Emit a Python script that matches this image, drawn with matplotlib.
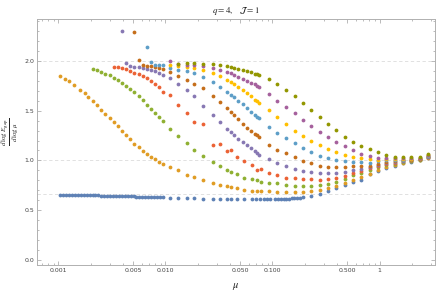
import matplotlib
matplotlib.use("Agg")
import matplotlib.pyplot as plt
from matplotlib.ticker import FixedLocator, FixedFormatter, NullFormatter, MultipleLocator

plt.rcParams['mathtext.fontset'] = 'stix'

# ---------------- data ----------------
# right-end columns shared by all series
mu_end = [0.966, 1.155, 1.381, 1.655, 1.978, 2.365, 2.833]

# common mid grid used by the upper series
mu_mid = [0.0224, 0.0275, 0.0325, 0.0375, 0.0411, 0.0440, 0.0478, 0.0527, 0.0578,
          0.0630, 0.0680, 0.0712, 0.0746, 0.0926, 0.1113, 0.1343,
          0.1606, 0.1924, 0.2300, 0.2750, 0.3295, 0.3938, 0.4709, 0.5642, 0.6745, 0.8064]

# grid used by red/green/orange in the middle range
mu_mid2 = [0.0224, 0.0275, 0.0325, 0.0375, 0.0411, 0.0465, 0.0547, 0.0642, 0.0712,
           0.0784, 0.0926, 0.1113, 0.1343,
           0.1606, 0.1924, 0.2300, 0.2750, 0.3295, 0.3938, 0.4709, 0.5642, 0.6745, 0.8064]

# early grid (0.001 .. 0.02)
mu_early = [0.001044, 0.001163, 0.001259, 0.001402, 0.001606, 0.001765, 0.001907, 0.00211,
            0.0023, 0.002506, 0.00275, 0.003022, 0.003294, 0.003591, 0.003938, 0.004292,
            0.004709, 0.005132, 0.005642, 0.006187, 0.006745, 0.007398, 0.008064, 0.008788,
            0.009578, 0.01106, 0.01314, 0.0158, 0.01866]

# series 1 (blue)
blue_mu = [0.00104, 0.00111, 0.00118, 0.00126, 0.00134, 0.00143, 0.00152, 0.00162, 0.00172,
           0.00183, 0.00195, 0.00208, 0.00221, 0.00236, 0.00251, 0.00268, 0.00285, 0.00304,
           0.00323, 0.00344, 0.00367, 0.00391, 0.00416, 0.00443, 0.00472, 0.00503, 0.00535,
           0.0057, 0.00607, 0.00647, 0.00689, 0.00734, 0.00781, 0.00832, 0.00886, 0.00944,
           0.01106, 0.01314, 0.0158, 0.01866, 0.0224, 0.0275, 0.0325, 0.0375, 0.0411, 0.0465,
           0.0547, 0.065, 0.0708, 0.0767, 0.0824, 0.0892, 0.0957, 0.105, 0.113, 0.12, 0.127,
           0.134, 0.142, 0.151, 0.16, 0.169, 0.179, 0.1924, 0.23, 0.275, 0.3295, 0.3938,
           0.4709, 0.5642, 0.6745, 0.8064] + mu_end
blue_y = [0.655, 0.655, 0.654, 0.654, 0.653, 0.653, 0.652, 0.652, 0.651, 0.651, 0.650, 0.649,
          0.649, 0.648, 0.647, 0.647, 0.646, 0.645, 0.644, 0.644, 0.643, 0.642, 0.641, 0.640,
          0.639, 0.638, 0.637, 0.636, 0.635, 0.634, 0.633, 0.632, 0.631, 0.630, 0.629, 0.628,
          0.626, 0.624, 0.620, 0.618, 0.616, 0.614, 0.612, 0.611, 0.611, 0.610, 0.610, 0.609,
          0.609, 0.609, 0.609, 0.610, 0.610, 0.611, 0.612, 0.613, 0.614, 0.615, 0.617, 0.619,
          0.621, 0.623, 0.626, 0.630, 0.647, 0.664, 0.690, 0.720, 0.750, 0.780, 0.805, 0.860,
          0.890, 0.920, 0.945, 0.970, 0.986, 1.000, 1.021]

# series 2 (orange)
orange_mu = mu_early[:-4] + [0.01106, 0.01314, 0.0158, 0.01866] + mu_mid2 + mu_end
orange_y = [1.851, 1.818, 1.794, 1.761, 1.710, 1.677, 1.640, 1.597, 1.552, 1.509, 1.469, 1.426,
            1.381, 1.341, 1.298, 1.258, 1.214, 1.167, 1.130, 1.097, 1.063, 1.039, 1.013, 0.986,
            0.966, 0.939, 0.900, 0.858, 0.830,
            0.800, 0.773, 0.752, 0.741, 0.731, 0.721, 0.707, 0.697, 0.696, 0.694, 0.689, 0.687,
            0.687, 0.684, 0.684, 0.694, 0.707, 0.724, 0.744, 0.775, 0.805, 0.835, 0.868,
            0.905, 0.935, 0.955, 0.977, 0.991, 1.004, 1.026]

# series 3 (green)
green_mu = mu_early[7:] + mu_mid2 + mu_end
green_y = [1.918, 1.903, 1.891, 1.868, 1.853, 1.831, 1.804, 1.778, 1.750, 1.718, 1.685, 1.647,
           1.605, 1.561, 1.519, 1.476, 1.431, 1.396, 1.318, 1.248, 1.172, 1.107,
           1.044, 0.986, 0.941, 0.902, 0.888, 0.865, 0.828, 0.812, 0.805, 0.788, 0.778, 0.771,
           0.755, 0.744, 0.746, 0.747, 0.752, 0.765, 0.785, 0.815, 0.850, 0.875, 0.900,
           0.930, 0.952, 0.968, 0.984, 0.996, 1.007, 1.030]

# series 4 (red)
red_mu = mu_early[12:] + mu_mid2 + mu_end
red_y = [1.936, 1.936, 1.929, 1.917, 1.896, 1.881, 1.871, 1.846, 1.826, 1.801, 1.771, 1.736,
         1.690, 1.655, 1.559, 1.472, 1.383,
         1.361, 1.157, 1.164, 1.097, 1.102, 1.033, 0.991, 0.951, 0.905, 0.918, 0.875, 0.849,
         0.825, 0.820, 0.815, 0.812, 0.808, 0.815, 0.825, 0.845, 0.872, 0.897, 0.920,
         0.945, 0.965, 0.977, 0.990, 1.000, 1.010, 1.034]

# series 5 (purple)
purple_mu = [0.00391] + mu_early[15:] + mu_mid + mu_end
purple_y = [2.304,
            1.979, 1.953, 1.943, 1.939, 1.932, 1.922, 1.908, 1.893, 1.879, 1.861, 1.826, 1.771,
            1.710, 1.645,
            1.549, 1.457, 1.382, 1.318, 1.281, 1.258, 1.220, 1.187, 1.152, 1.120, 1.092, 1.079,
            1.058, 1.013, 0.976, 0.943, 0.918, 0.895, 0.885, 0.877, 0.872, 0.873, 0.888, 0.902,
            0.917, 0.939,
            0.955, 0.975, 0.985, 0.995, 1.004, 1.014, 1.038]

# series 6 (brown)
brown_mu = [0.005132, 0.0056] + mu_early[19:] + mu_mid + mu_end
brown_y = [2.291, 2.012,
           1.959, 1.952, 1.945, 1.939, 1.929, 1.922, 1.886, 1.846, 1.806, 1.771,
           1.723, 1.650, 1.583, 1.524, 1.486, 1.459, 1.416, 1.370, 1.330, 1.298, 1.268, 1.251,
           1.233, 1.157, 1.107, 1.071, 1.036, 0.993, 0.971, 0.949, 0.938, 0.936, 0.936, 0.943,
           0.946, 0.949,
           0.965, 0.985, 0.993, 1.000, 1.008, 1.017, 1.042]

# series 7 (light blue)
lblue_mu = [0.0067] + mu_early[21:] + mu_mid + mu_end
lblue_y = [2.136,
           1.985, 1.959, 1.959, 1.959, 1.927, 1.911, 1.896, 1.878,
           1.838, 1.786, 1.733, 1.690, 1.660, 1.637, 1.600, 1.564, 1.529, 1.489, 1.454, 1.436,
           1.424, 1.338, 1.278, 1.227, 1.177, 1.122, 1.083, 1.049, 1.021, 1.001, 0.990, 0.983,
           0.981, 0.979,
           0.990, 1.000, 1.002, 1.007, 1.013, 1.020, 1.046]

# series 8 (yellow)
yellow_mu = mu_early[25:] + mu_mid + mu_end
yellow_y = [1.962, 1.952, 1.942, 1.929,
            1.911, 1.878, 1.844, 1.811, 1.786, 1.769, 1.740, 1.707, 1.677, 1.643, 1.607, 1.593,
            1.579, 1.504, 1.432, 1.361, 1.300, 1.247, 1.195, 1.154, 1.116, 1.082, 1.058, 1.038,
            1.026, 1.011,
            1.008, 1.012, 1.012, 1.013, 1.017, 1.024, 1.050]

# series 9 (magenta)
magenta_mu = mu_early[25:] + mu_mid + mu_end
magenta_y = [2.002, 1.967, 1.962, 1.955,
             1.947, 1.930, 1.911, 1.888, 1.874, 1.861, 1.841, 1.821, 1.801, 1.781, 1.764, 1.750,
             1.740, 1.665, 1.600, 1.532, 1.472, 1.403, 1.343, 1.288, 1.232, 1.182, 1.142, 1.102,
             1.066, 1.041,
             1.025, 1.025, 1.022, 1.020, 1.022, 1.028, 1.055]

# series 10 (olive)
olive_mu = mu_early[26:] + mu_mid + mu_end
olive_y = [1.972, 1.975, 1.979,
           1.972, 1.967, 1.957, 1.949, 1.940, 1.932, 1.922, 1.906, 1.896, 1.886, 1.871, 1.866,
           1.859, 1.813, 1.764, 1.705, 1.643, 1.576, 1.502, 1.436, 1.366, 1.301, 1.240, 1.187,
           1.145, 1.110,
           1.080, 1.056, 1.036, 1.030, 1.030, 1.033, 1.060]

x_ticks = [0.001, 0.005, 0.01, 0.05, 0.1, 0.5, 1]
x_ticklabels = ["0.001", "0.005", "0.010", "0.050", "0.100", "0.500", "1"]
y_ticks = [0.0, 0.5, 1.0, 1.5, 2.0]
y_ticklabels = ["0.0", "0.5", "1.0", "1.5", "2.0"]
grid_y = [2/3, 1.0, 2.0]

series = [
    (blue_mu, blue_y, "#5E81B5"),
    (orange_mu, orange_y, "#E09C24"),
    (green_mu, green_y, "#8FB032"),
    (red_mu, red_y, "#EB6235"),
    (purple_mu, purple_y, "#8778B3"),
    (brown_mu, brown_y, "#C56E1A"),
    (lblue_mu, lblue_y, "#5D9EC7"),
    (yellow_mu, yellow_y, "#FFBF00"),
    (magenta_mu, magenta_y, "#A5609D"),
    (olive_mu, olive_y, "#929600"),
]

# ---------------- plot ----------------
fig = plt.figure(figsize=(4.36, 2.94), dpi=100)
ax = fig.add_axes([37/436, 1-265/294, 398/436, 246/294])

for gy in grid_y:
    ax.axhline(gy, color="#dcdcdc", lw=0.6, ls=(0, (4, 3)), zorder=0)

for i, (xs, ys, c) in enumerate(series):
    ax.scatter(xs, ys, s=7.5, color=c, linewidths=0, zorder=2 + i)

ax.set_xscale("log")
ax.set_xlim(6.3e-4, 3.3)
ax.set_ylim(-0.05, 2.42)

ax.xaxis.set_major_locator(FixedLocator(x_ticks))
ax.xaxis.set_major_formatter(FixedFormatter(x_ticklabels))
minors = [m * 10.0**e for e in range(-4, 1) for m in range(2, 10)]
ax.xaxis.set_minor_locator(FixedLocator(minors))
ax.xaxis.set_minor_formatter(NullFormatter())
ax.yaxis.set_major_locator(FixedLocator(y_ticks))
ax.yaxis.set_major_formatter(FixedFormatter(y_ticklabels))
ax.yaxis.set_minor_locator(MultipleLocator(0.1))

for sp in ax.spines.values():
    sp.set_color("#b0b0b0")
    sp.set_linewidth(0.7)
ax.tick_params(which="both", direction="in", top=True, right=True, color="#b0b0b0",
               width=0.6, labelsize=4.5, labelcolor="#444444", pad=2)
ax.tick_params(which="major", length=3)
ax.tick_params(which="minor", length=1.6)

ax.set_title(r"$q=4,\quad\mathcal{J}=1$", fontsize=6.5, pad=4, color="#222222")
ax.set_xlabel(r"$\mu$", fontsize=7.5, labelpad=6, color="#222222")
ax.set_ylabel(r"$\frac{d\,\log\,E_{\rm gap}}{d\,\log\,\mu}$", fontsize=7, color="#222222",
              ha="center", va="center")
ax.yaxis.set_label_coords(-0.068, 0.54)

fig.savefig("out.png", dpi=100)
